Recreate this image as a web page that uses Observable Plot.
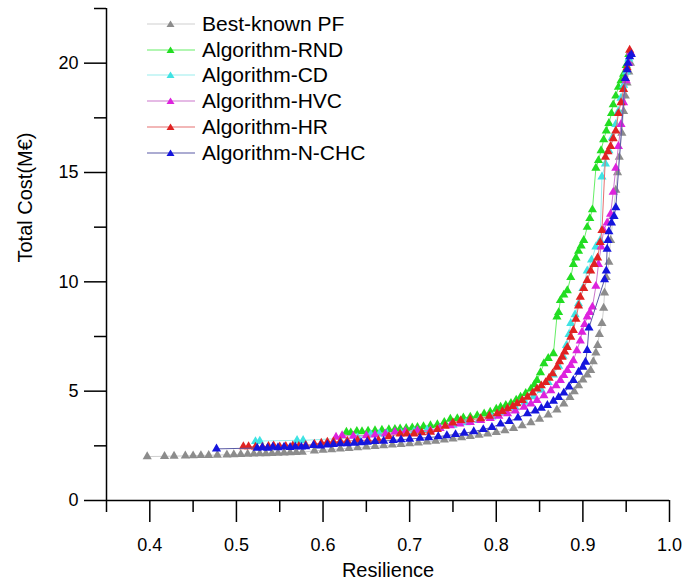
<!DOCTYPE html>
<html><head><meta charset="utf-8">
<script src="https://cdn.jsdelivr.net/npm/d3@7"></script>
<script src="https://cdn.jsdelivr.net/npm/@observablehq/plot@0.6"></script>
<style>
body{margin:0;background:#fff;}
#wrap{position:relative;width:684px;height:586px;font-family:"Liberation Sans",Arial,sans-serif;}
#legend{position:absolute;left:147px;top:11px;}
.item{display:flex;align-items:center;height:25.8px;font-size:21px;color:#000;}
.item svg{margin-right:7px;}
</style></head><body><div id="wrap"><div id="chart"></div><div id="legend"></div></div>
<script>
const seriesNames = ["Best-known PF","Algorithm-RND","Algorithm-CD","Algorithm-HVC","Algorithm-HR","Algorithm-N-CHC"];
const markerColors = ["#8c8c8c","#22dd22","#3fe3e3","#dd22dd","#e02222","#1515dd"];
const lineColors = ["#cfcfcf","#66ee66","#99eeee","#cc77cc","#e57070","#5a5aa5"];

const bestX = [0.397,0.417,0.428,0.441,0.450,0.459,0.468,0.478,0.489,0.497,0.505,0.513,0.520,0.527,0.534,0.541,0.548,0.555,0.562,0.569,0.576,0.590,0.600,0.610,0.620,0.630,0.640,0.650,0.660,0.670,0.680,0.690,0.700,0.710,0.720,0.730,0.740,0.750,0.760,0.770,0.780,0.790,0.800,0.810,0.820,0.830,0.840,0.850,0.860,0.870,0.878,0.885,0.890,0.895,0.900,0.905,0.909,0.912,0.915,0.917,0.919,0.922,0.924,0.925,0.927,0.930,0.932,0.935,0.938,0.940,0.942,0.945,0.947,0.949,0.951,0.953,0.955];
const bestY = [2.01,2.02,2.03,2.04,2.05,2.06,2.07,2.08,2.09,2.10,2.11,2.12,2.13,2.14,2.15,2.16,2.17,2.18,2.19,2.20,2.21,2.27,2.30,2.33,2.36,2.39,2.42,2.45,2.48,2.51,2.54,2.57,2.60,2.64,2.68,2.72,2.77,2.82,2.88,2.93,2.99,3.05,3.12,3.20,3.30,3.42,3.56,3.72,3.92,4.15,4.42,4.72,4.98,5.25,5.52,5.75,5.95,6.35,6.75,7.10,7.60,8.10,8.80,9.50,10.20,10.90,11.90,13.00,14.20,15.00,15.70,16.80,17.80,18.50,19.10,19.60,20.00];

const rndX = [0.627,0.632,0.639,0.645,0.652,0.660,0.668,0.676,0.683,0.689,0.696,0.703,0.709,0.716,0.724,0.732,0.740,0.747,0.755,0.762,0.770,0.778,0.786,0.793,0.800,0.805,0.811,0.817,0.823,0.828,0.834,0.840,0.844,0.847,0.851,0.855,0.860,0.866,0.870,0.872,0.874,0.878,0.882,0.886,0.889,0.892,0.895,0.898,0.901,0.905,0.908,0.911,0.915,0.918,0.921,0.924,0.927,0.930,0.933,0.935,0.938,0.941,0.944,0.947,0.950,0.953];
const rndY = [3.13,3.10,3.17,3.15,3.18,3.20,3.22,3.24,3.26,3.28,3.30,3.33,3.35,3.38,3.43,3.47,3.58,3.72,3.75,3.78,3.82,3.88,3.96,4.04,4.18,4.27,4.35,4.45,4.60,4.73,4.90,5.10,5.30,5.50,5.85,6.26,6.50,6.72,8.40,8.60,9.15,9.40,9.60,10.20,10.80,11.10,11.40,11.65,11.90,12.50,12.90,13.30,15.20,15.55,16.00,16.50,16.90,17.25,17.70,18.10,18.50,18.90,19.20,19.50,19.90,20.40];

const cdX = [0.522,0.527,0.570,0.577,0.640,0.655,0.665,0.674,0.690,0.705,0.720,0.735,0.750,0.765,0.780,0.795,0.810,0.822,0.833,0.843,0.852,0.860,0.866,0.872,0.877,0.881,0.884,0.886,0.891,0.895,0.900,0.905,0.910,0.915,0.920,0.922,0.926,0.930,0.934,0.938,0.941,0.944,0.947,0.950,0.953];
const cdY = [2.70,2.72,2.75,2.75,2.88,3.02,3.05,3.05,3.10,3.15,3.22,3.30,3.45,3.56,3.67,3.82,4.02,4.25,4.50,4.75,5.05,5.40,5.75,6.15,6.60,7.10,7.60,8.10,8.50,9.00,9.70,10.50,11.00,11.60,11.90,14.80,15.40,16.00,16.60,17.20,17.80,18.40,19.00,19.60,20.20];

const hvcX = [0.615,0.622,0.635,0.650,0.660,0.672,0.683,0.695,0.709,0.724,0.735,0.747,0.758,0.770,0.782,0.793,0.803,0.813,0.822,0.832,0.840,0.847,0.855,0.863,0.869,0.874,0.878,0.882,0.886,0.889,0.893,0.897,0.899,0.902,0.905,0.908,0.911,0.915,0.918,0.921,0.924,0.928,0.932,0.935,0.938,0.941,0.944,0.947,0.950,0.953,0.955];
const hvcY = [2.90,2.97,2.95,2.97,3.00,3.05,3.13,3.15,3.20,3.20,3.30,3.43,3.50,3.57,3.66,3.76,3.86,3.97,4.10,4.27,4.42,4.58,4.80,5.03,5.25,5.50,5.72,5.95,6.18,6.40,6.86,7.30,7.70,8.05,8.40,8.60,8.85,9.80,10.80,11.60,12.35,12.70,13.10,14.10,15.20,16.20,17.20,18.20,19.20,20.00,20.50];

const hrX = [0.508,0.514,0.522,0.530,0.537,0.543,0.550,0.557,0.565,0.572,0.580,0.590,0.598,0.605,0.612,0.620,0.628,0.640,0.652,0.664,0.676,0.689,0.697,0.705,0.714,0.724,0.732,0.741,0.750,0.759,0.770,0.782,0.792,0.801,0.807,0.813,0.819,0.824,0.830,0.836,0.842,0.847,0.852,0.857,0.861,0.865,0.870,0.873,0.876,0.879,0.882,0.886,0.889,0.892,0.895,0.897,0.901,0.905,0.909,0.913,0.917,0.920,0.922,0.926,0.929,0.932,0.935,0.938,0.941,0.944,0.947,0.949,0.951,0.954];
const hrY = [2.47,2.47,2.45,2.44,2.48,2.50,2.46,2.48,2.50,2.48,2.52,2.58,2.63,2.67,2.68,2.70,2.72,2.75,2.75,2.75,2.92,3.05,3.05,3.05,3.10,3.13,3.25,3.40,3.55,3.66,3.70,3.75,3.86,3.97,4.08,4.20,4.30,4.43,4.58,4.73,4.92,5.10,5.25,5.40,5.60,5.80,6.10,6.35,6.56,6.80,7.00,7.47,7.78,8.30,8.90,9.30,9.70,10.07,10.50,10.80,11.10,11.80,12.35,15.70,15.95,16.20,16.55,16.90,17.70,18.20,18.80,19.30,19.80,20.60];

const nchcX = [0.477,0.524,0.530,0.536,0.542,0.548,0.555,0.562,0.568,0.575,0.580,0.589,0.597,0.605,0.612,0.620,0.628,0.636,0.644,0.651,0.660,0.670,0.681,0.690,0.700,0.712,0.722,0.733,0.743,0.753,0.763,0.774,0.785,0.795,0.805,0.815,0.825,0.836,0.845,0.852,0.859,0.866,0.872,0.878,0.884,0.889,0.895,0.900,0.903,0.905,0.907,0.925,0.927,0.928,0.929,0.930,0.933,0.936,0.938,0.949,0.951,0.952,0.954,0.956];
const nchcY = [2.36,2.40,2.42,2.40,2.44,2.42,2.45,2.43,2.46,2.45,2.47,2.52,2.50,2.55,2.57,2.60,2.60,2.63,2.65,2.67,2.70,2.72,2.75,2.78,2.81,2.85,2.88,2.92,2.97,3.02,3.08,3.15,3.25,3.35,3.50,3.62,3.78,3.97,4.10,4.22,4.35,4.55,4.72,4.92,5.20,5.50,5.87,6.10,6.33,6.87,7.90,10.10,10.50,11.50,11.90,12.30,12.70,13.00,13.40,19.30,19.70,20.00,20.30,20.40];

const seriesX = [bestX, rndX, cdX, hvcX, hrX, nchcX];
const seriesY = [bestY, rndY, cdY, hvcY, hrY, nchcY];

const xMajor = [0.4,0.5,0.6,0.7,0.8,0.9,1.0];
const xMinor = [0.35,0.45,0.55,0.65,0.75,0.85,0.95];
const yMajor = [0,5,10,15,20];
const yMinor = [2.5,7.5,12.5,17.5,22.5];

const seriesMarks = [];
seriesNames.forEach((name, i) => {
  const rows = seriesX[i].map((x, j) => ({series: name, x, y: seriesY[i][j]}));
  seriesMarks.push(Plot.line(rows, {x: "x", y: "y", stroke: lineColors[i], strokeWidth: 1}));
  seriesMarks.push(Plot.dot(rows, {x: "x", y: "y", symbol: "triangle", r: 3.4, fill: markerColors[i], stroke: "none"}));
});

const chart = Plot.plot({
  width: 684, height: 586,
  marginLeft: 106, marginRight: 15, marginTop: 8, marginBottom: 86,
  style: {fontFamily: '"Liberation Sans", Arial, sans-serif', fontSize: "18px", color: "#000", background: "#fff"},
  x: {domain: [0.35, 1.0], label: null},
  y: {domain: [0, 22.5], label: null},
  marks: [
    ...seriesMarks,
    Plot.ruleY([0], {stroke: "#000", strokeWidth: 1.5}),
    Plot.ruleX([0.35], {stroke: "#000", strokeWidth: 1.5}),
    Plot.axisX({ticks: xMajor, tickSize: 22, tickPadding: 16, strokeWidth: 1.5, tickFormat: d3.format(".1f"), fontSize: 18, label: null}),
    Plot.axisX({ticks: xMinor, tickSize: 12, strokeWidth: 1.5, tickFormat: () => "", label: null}),
    Plot.axisY({ticks: yMajor, tickSize: 22, tickPadding: 6, strokeWidth: 1.5, tickFormat: d3.format("d"), fontSize: 18, label: null}),
    Plot.axisY({ticks: yMinor, tickSize: 12, strokeWidth: 1.5, tickFormat: () => "", label: null}),
    Plot.text(["Resilience"], {frameAnchor: "bottom", dy: 76, fontSize: 20, fill: "#000"}),
    Plot.text(["Total Cost(M€)"], {frameAnchor: "left", dx: -81, dy: 8, rotate: -90, fontSize: 20, fill: "#000"})
  ]
});
document.getElementById("chart").appendChild(chart);

const legend = document.getElementById("legend");
seriesNames.forEach((name, i) => {
  const item = document.createElement("div");
  item.className = "item";
  item.innerHTML = `<svg width="48" height="14"><line x1="0" y1="7" x2="48" y2="7" stroke="${lineColors[i]}" stroke-width="1.2"/><path d="M23.5,3.5 L27.5,10 L19.5,10 Z" fill="${markerColors[i]}"/></svg>`;
  const span = document.createElement("span");
  span.textContent = name;
  item.appendChild(span);
  legend.appendChild(item);
});
</script>
</body></html>
